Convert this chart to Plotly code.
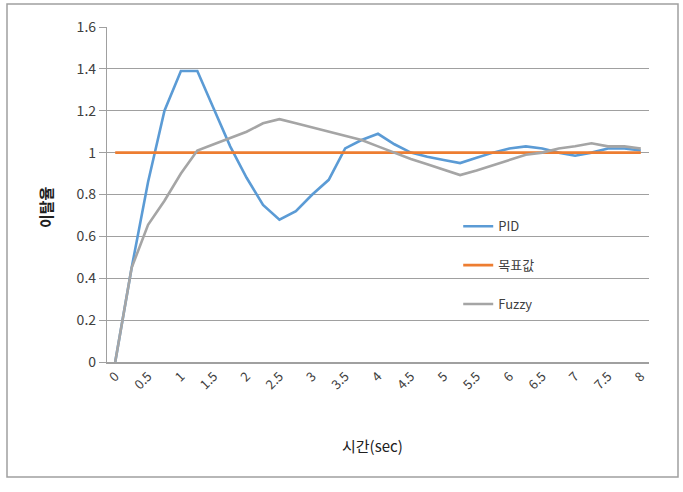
import plotly.graph_objects as go

time_cats = ["0", "0.25", "0.5", "0.75", "1", "1.25", "1.5", "1.75", "2", "2.25",
             "2.5", "2.75", "3", "3.25", "3.5", "3.75", "4", "4.25", "4.5", "4.75",
             "5", "5.25", "5.5", "5.75", "6", "6.25", "6.5", "6.75", "7", "7.25",
             "7.5", "7.75", "8"]
tick_labels = ["0", "0.5", "1", "1.5", "2", "2.5", "3", "3.5", "4", "4.5",
               "5", "5.5", "6", "6.5", "7", "7.5", "8"]

pid = [0.0, 0.45, 0.86, 1.20, 1.39, 1.39, 1.21, 1.03, 0.88, 0.75,
       0.68, 0.72, 0.80, 0.87, 1.02, 1.06, 1.09, 1.04, 1.00, 0.98,
       0.965, 0.95, 0.975, 1.00, 1.02, 1.03, 1.02, 1.00, 0.985, 1.00,
       1.02, 1.02, 1.01]
target = [1.0] * 33
fuzzy = [0.0, 0.45, 0.655, 0.77, 0.90, 1.01, 1.04, 1.07, 1.10, 1.14,
         1.16, 1.14, 1.12, 1.10, 1.08, 1.06, 1.03, 1.00, 0.97, 0.945,
         0.92, 0.893, 0.915, 0.94, 0.965, 0.99, 1.00, 1.02, 1.03, 1.045,
         1.03, 1.03, 1.02]

series_names = ["PID", "목표값", "Fuzzy"]
series_colors = ["#5B9BD5", "#ED7D31", "#A5A5A5"]

idx = list(range(len(time_cats)))
font_family = "Noto Sans CJK KR, Noto Sans, sans-serif"

fig = go.Figure()
for name, vals, col in zip(series_names, [pid, target, fuzzy], series_colors):
    fig.add_trace(go.Scatter(
        x=idx, y=vals, mode="lines", name=name, legendgroup=name,
        line=dict(color=col, width=2.6),
        customdata=time_cats,
        hovertemplate="%{customdata}: %{y}<extra>" + name + "</extra>",
    ))

tick_vals = [i for i, c in enumerate(time_cats) if c in tick_labels]

fig.update_layout(
    width=683, height=492,
    margin=dict(l=107, r=34, t=27, b=130),
    paper_bgcolor="white", plot_bgcolor="white",
    font=dict(family=font_family, color="#404040", size=12),
    showlegend=True,
    legend=dict(x=0.648, y=0.45, xanchor="left", yanchor="top",
                bgcolor="rgba(0,0,0,0)", tracegroupgap=19,
                font=dict(size=13, color="#404040")),
    xaxis=dict(
        range=[-0.5, len(time_cats) - 0.5],
        tickmode="array", tickvals=tick_vals, ticktext=tick_labels,
        tickangle=-45, tickfont=dict(size=13, color="#404040"),
        showgrid=False, zeroline=False,
        showline=True, linecolor="#A0A0A0", linewidth=1.5,
        ticks="", fixedrange=True,
    ),
    yaxis=dict(
        range=[0, 1.6], dtick=0.2, tickformat="~g",
        showgrid=True, gridcolor="#A0A0A0", gridwidth=1.3,
        zeroline=False, showline=True, linecolor="#A0A0A0", linewidth=1.3,
        ticks="outside", ticklen=7, tickcolor="#A0A0A0",
        tickfont=dict(size=14, color="#404040"),
    ),
    annotations=[
        dict(text="시간(sec)", xref="paper", yref="paper",
             x=(372 - 107) / 542, y=(362 - 445) / 335,
             xanchor="center", yanchor="middle", showarrow=False,
             font=dict(size=15, color="#202020")),
        dict(text="<b>이탈율</b>", xref="paper", yref="paper",
             x=(45 - 107) / 542, y=(362 - 207) / 335, textangle=-90,
             xanchor="center", yanchor="middle", showarrow=False,
             font=dict(size=15, color="#202020")),
    ],
    shapes=[
        dict(type="rect", xref="paper", yref="paper",
             x0=(7 - 107) / 542, x1=(678 - 107) / 542,
             y0=(362 - 477) / 335, y1=(362 - 4) / 335,
             line=dict(color="#A0A0A0", width=1.5), layer="below"),
    ],
)

fig.write_html("out.html")
